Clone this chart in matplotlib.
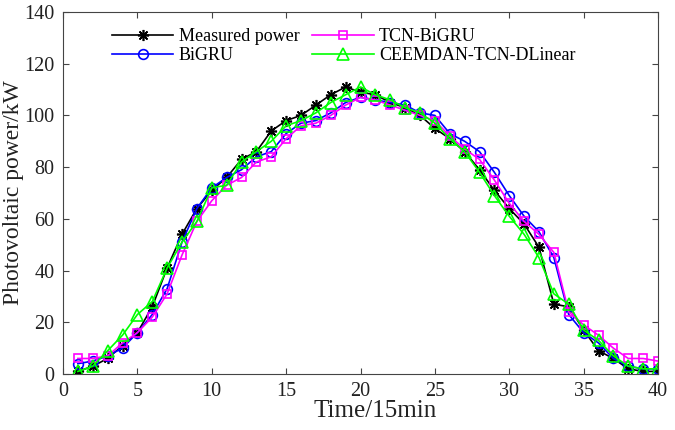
import numpy as np
import matplotlib
matplotlib.use("Agg")
import matplotlib.pyplot as plt

plt.rcParams['font.family'] = ['Liberation Serif', 'DejaVu Serif']

t = np.arange(1, 41)

measured = [1, 3, 6, 11, 16, 26, 41, 54, 64, 71, 76, 83, 86, 94, 98, 100, 104, 108, 111, 109,
            108, 105, 103, 100, 95, 91, 86, 79, 71, 64, 58, 49, 27, 26, 17, 9, 6, 2, 1, 1]
bigru = [4, 5, 7, 10, 16, 23, 33, 51, 64, 72, 76, 79, 84, 86, 93, 97, 98, 101, 105, 107,
         106, 105, 104, 101, 100, 93, 90, 86, 78, 69, 61, 55, 45, 23, 16, 12, 6, 3, 2, 2]
tcn_bigru = [6, 6, 7, 12, 16, 22, 31, 46, 59, 67, 73, 76, 82, 84, 91, 96, 97, 100, 104, 107,
             106, 104, 102, 100, 98, 92, 87, 83, 75, 66, 59, 54, 47, 24, 19, 15, 10, 6, 6, 5]
ceemdan = [1, 3, 9, 15, 23, 28, 41, 51, 59, 72, 73, 82, 86, 90, 96, 98, 101, 105, 108, 111,
           108, 106, 103, 101, 97, 91, 86, 78, 69, 61, 54, 45, 31, 27, 17, 13, 7, 3, 2, 2]

fig = plt.figure(figsize=(6.75, 4.30), dpi=100)
ax = fig.add_axes([63/675, 1-374/430, (658-63)/675, (374-12)/430])

# MATLAB-style asterisk: 8 spokes
ax.plot(t, measured, color='black', marker=(8, 2, 0), ms=8, mew=1.2, lw=1.2, label='Measured power')
ax.plot(t, bigru, color='#0000ff', marker='o', ms=7, mfc='none', mew=1.2, lw=1.2, label='BiGRU')
ax.plot(t, tcn_bigru, color='#ff00ff', marker='s', ms=6, mfc='none', mew=1.2, lw=1.2, label='TCN-BiGRU')
ax.plot(t, ceemdan, color='#00ff00', marker='^', ms=8, mfc='none', mew=1.2, lw=1.2,
        label='CEEMDAN-TCN-DLinear')

ax.set_xlim(0, 40)
ax.set_ylim(0, 140)
ax.set_xticks(range(0, 41, 5))
ax.set_yticks(range(0, 141, 20))
ax.tick_params(direction='in', top=True, right=True, labelsize=14.5, length=4, pad=6,
               color='#444444', labelcolor='#222222')
for s in ax.spines.values():
    s.set_color('#444444')
ax.set_xlabel('Time/15min', fontsize=18, color='#222222')
ax.xaxis.set_label_coords(0.525, -0.072, transform=ax.transAxes)
ax.xaxis.label.set_va('top')
ax.set_ylabel('Photovoltaic power/kW', fontsize=17, labelpad=0, color='#222222')

ax.legend(ncol=2, frameon=False, fontsize=13, loc='upper left', bbox_to_anchor=(0.055, 1.0),
          handlelength=3.4, handletextpad=0.3, columnspacing=0.7, labelspacing=0.12)

fig.savefig('out.png', dpi=100)
